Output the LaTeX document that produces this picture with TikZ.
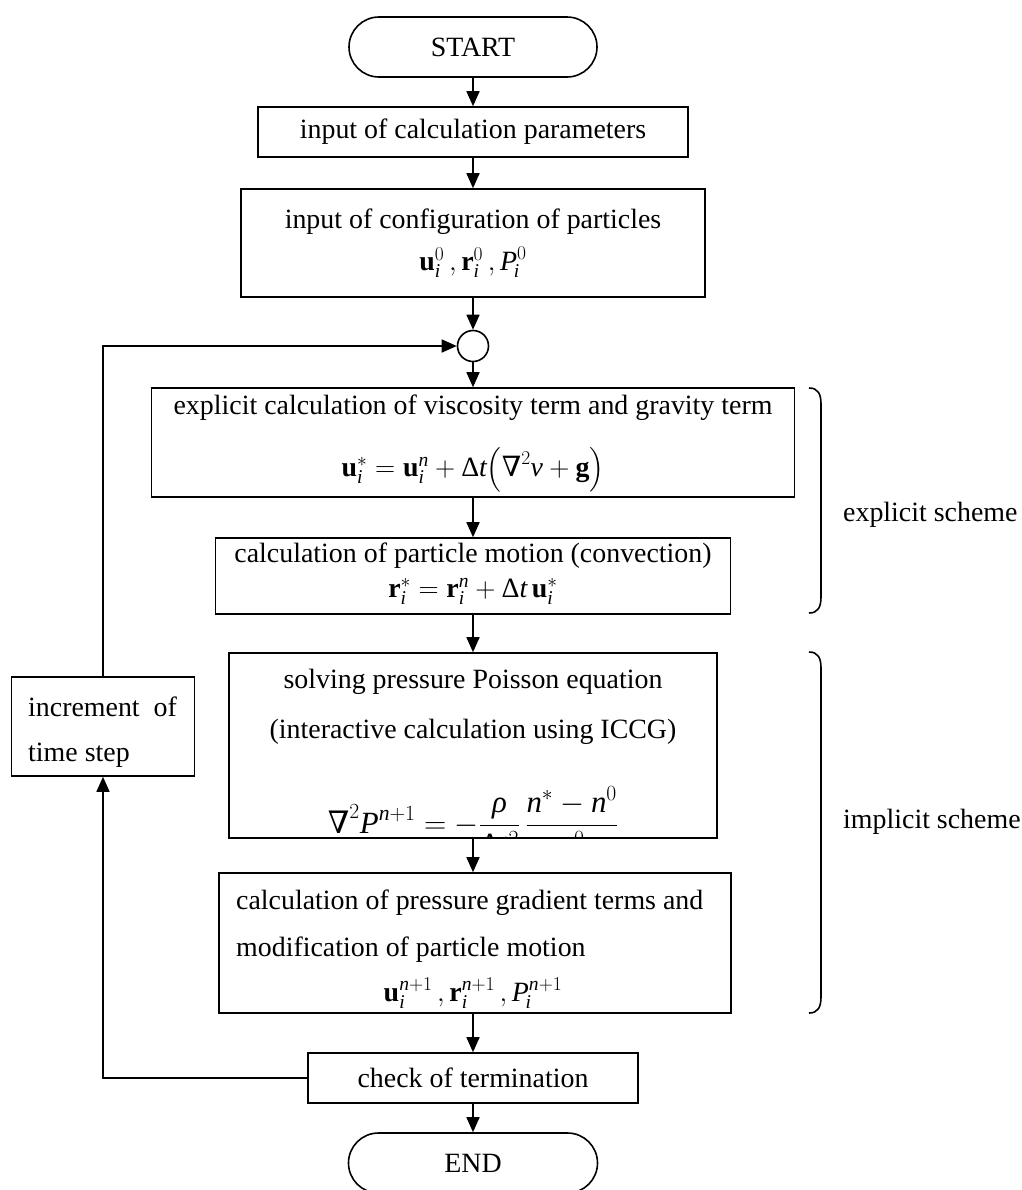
\RequirePackage{fix-cm}
\documentclass[tikz,border=0pt]{standalone}
\usepackage{amsmath}
\usepackage{fontspec}
\setmainfont{Liberation Serif}
\newfontfamily\dvsymb{DejaVu Serif}
\usetikzlibrary{arrows.meta,shapes.misc}
\newcommand\vb[1]{\textbf{#1}}
\newcommand\vi[1]{\textit{#1}}
\newcommand\nab{\text{\dvsymb\symbol{"2207}}}
\newcommand\Dlt{\textup{Δ}}
\begin{document}
\begin{tikzpicture}[x=1bp,y=-1bp,
  every node/.style={font=\fontsize{28}{34}\selectfont},
  box/.style={draw, line width=1.6bp, rectangle, inner sep=0pt},
  term/.style={draw, line width=1.6bp, rounded rectangle, inner sep=0pt},
  lbl/.style={inner sep=0pt, anchor=center},
  lbll/.style={inner sep=0pt, anchor=west},
  arr/.style={line width=1.6bp, -{Triangle[length=15bp,width=13bp]}},
  ln/.style={line width=1.6bp},
]
\useasboundingbox (0,0) rectangle (1022,1190);
\clip (0,0) rectangle (1022,1190);

% main column
\node[term, minimum width=248bp, minimum height=60bp] (start) at (473,47) {START};
\node[box, minimum width=430bp, minimum height=50bp] (b1) at (473,132) {input of calculation parameters};

\node[box, minimum width=464bp, minimum height=108bp] (b2) at (473,243) {};
\node[lbl] (t2a) at (473,222) {input of configuration of particles};
\node[lbl] (t2b) at (473,262) {$\vb{u}_{\vi{i}}^{0}\,,\vb{r}_{\vi{i}}^{0}\,,\vi{P}_{\!\vi{i}}^{0}$};

\node[circle, draw, line width=1.6bp, minimum size=31bp, inner sep=0pt] (c) at (473,346) {};

\node[box, minimum width=643bp, minimum height=109bp] (b3) at (473,442.5) {};
\node[lbl] (t3a) at (473,408) {explicit calculation of viscosity term and gravity term};
\node[lbl] (t3b) at (473,470) {$\vb{u}_{\vi{i}}^{*}=\vb{u}_{\vi{i}}^{\vi{n}}+\Dlt\vi{t}\bigl(\nab^{2}\vi{ν}+\vb{g}\bigr)$};

\node[box, minimum width=515bp, minimum height=76bp] (b4) at (473,576) {};
\node[lbl] (t4a) at (473,556) {calculation of particle motion (convection)};
\node[lbl] (t4b) at (473,591) {$\vb{r}_{\vi{i}}^{*}=\vb{r}_{\vi{i}}^{\vi{n}}+\Dlt\vi{t}\,\vb{u}_{\vi{i}}^{*}$};

\begin{scope}
\clip (229.8,653.8) rectangle (716.2,837.2);
\node[inner sep=0pt, anchor=base, font=\fontsize{31}{38}\selectfont] (t5c) at (473,833) {$\displaystyle\nab^{2}\vi{P}^{\vi{n}+1}=-\frac{\vi{ρ}}{\Dlt\vi{t}^{2}}\,\frac{\vi{n}^{*}-\vi{n}^{0}}{\vi{n}^{0}}$};
\end{scope}
\node[box, minimum width=488bp, minimum height=185bp] (b5) at (473,745.5) {};
\node[lbl] (t5a) at (473,682) {solving pressure Poisson equation};
\node[lbl] (t5b) at (473,732) {(interactive calculation using ICCG)};

\node[box, minimum width=512bp, minimum height=140bp] (b6) at (475,943) {};
\node[lbll] (t6a) at (236,903) {calculation of pressure gradient terms and};
\node[lbll] (t6b) at (236,950) {modification of particle motion};
\node[lbl] (t6c) at (473,993) {$\vb{u}_{\vi{i}}^{\vi{n}+1}\,,\vb{r}_{\vi{i}}^{\vi{n}+1}\,,\vi{P}_{\!\vi{i}}^{\vi{n}+1}$};

\node[box, minimum width=330bp, minimum height=50bp] (chk) at (473,1078) {check of termination};
\node[term, minimum width=249bp, minimum height=60bp] (end) at (473,1163) {END};

% loop box
\node[box, minimum width=183bp, minimum height=99bp] (incr) at (103,726.5) {};
\node[lbll] (ti1) at (28,707) {increment\ \ of};
\node[lbll] (ti2) at (28,755) {time step};

% connectors
\draw[arr] (start) -- (b1);
\draw[arr] (b1) -- (b2);
\draw[arr] (b2) -- (c);
\draw[arr] (c) -- (b3);
\draw[arr] (b3) -- (b4);
\draw[arr] (b4) -- (b5);
\draw[arr] (b5.south) -- (b5.south |- b6.north);
\draw[arr] (b6.south -| chk.north) -- (chk.north);
\draw[arr] (chk) -- (end);
\draw[arr] (chk.west) -| (incr.south);
\draw[arr] (incr.north) |- (c.west);

% braces
\draw[ln] (809,388) .. controls (818,388) and (821,394) .. (821,404) -- (821,597) .. controls (821,607) and (818,613) .. (809,613);
\draw[ln] (809,652) .. controls (818,652) and (821,658) .. (821,668) -- (821,997) .. controls (821,1007) and (818,1013) .. (809,1013);
\node[lbll] (ex) at (843,515) {explicit scheme};
\node[lbll] (im) at (843,822) {implicit scheme};
\end{tikzpicture}
\end{document}
